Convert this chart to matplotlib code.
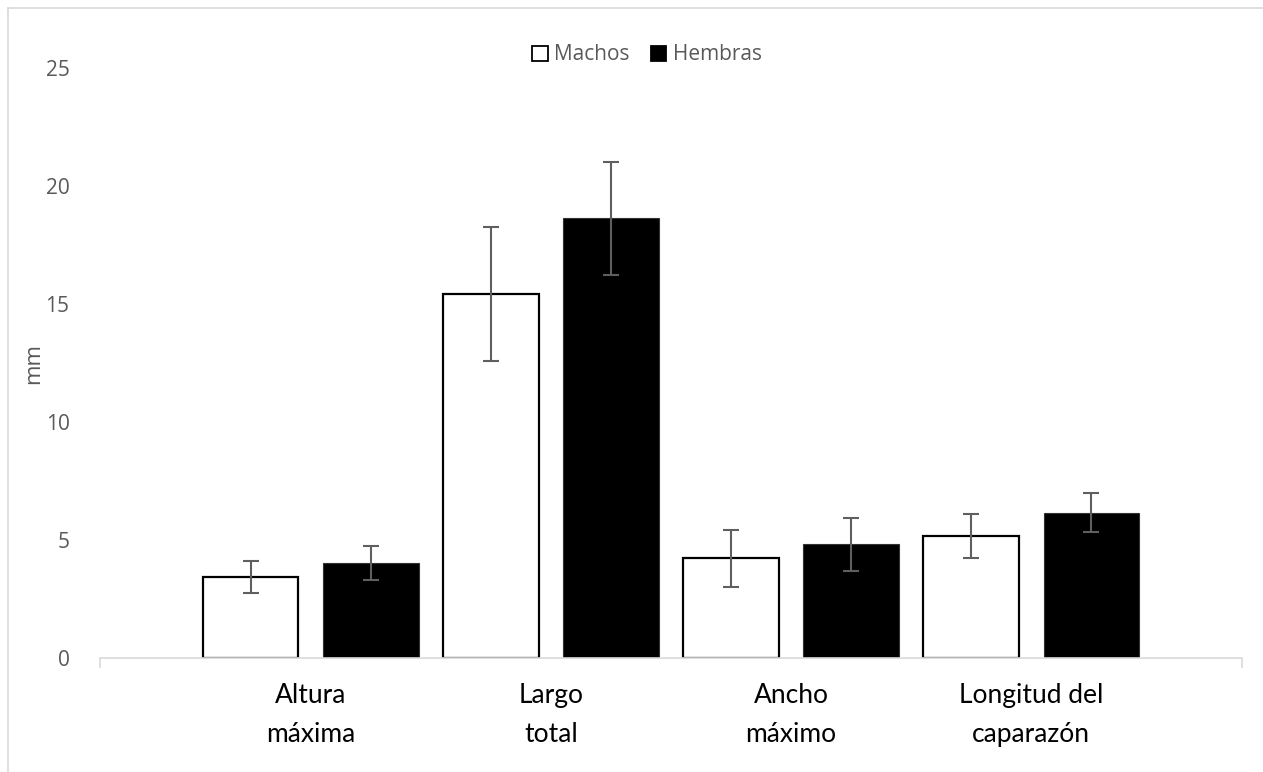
import matplotlib
matplotlib.use("Agg")
import matplotlib.pyplot as plt
from matplotlib.patches import Patch
from matplotlib.lines import Line2D
import numpy as np

categories = ["Altura\nmáxima", "Largo\ntotal", "Ancho\nmáximo", "Longitud del\ncaparazón"]
series_names = ["Machos", "Hembras"]
machos = [3.42, 15.44, 4.22, 5.17]
machos_err = [0.67, 2.84, 1.22, 0.93]
hembras = [4.04, 18.63, 4.82, 6.16]
hembras_err = [0.72, 2.40, 1.13, 0.82]
yticks = [0, 5, 10, 15, 20, 25]
ylabel = "mm"

W, H = 1263, 772
fig = plt.figure(figsize=(W / 100, H / 100), dpi=100)
ax = fig.add_axes([100 / W, 1 - 658 / H, (1242 - 100) / W, (658 - 68) / H])

x = np.arange(len(categories))
bw = 0.396
off = 0.25
grey = "#595959"
err_kw = dict(ecolor="#5f5f5f", elinewidth=1.5, capsize=6, capthick=1.5)

ax.bar(x - off, machos, bw, color="white", edgecolor="black", linewidth=1.6,
       yerr=machos_err, error_kw=err_kw, zorder=2)
ax.bar(x + off, hembras, bw, color="black", edgecolor="#333333", linewidth=0.8,
       yerr=hembras_err, error_kw=err_kw, zorder=2)

ax.set_xlim(-0.879, len(categories) - 1 + 0.879)
ax.set_ylim(0, 25)
ax.set_yticks(yticks)
ax.set_yticklabels([str(t) for t in yticks], fontfamily="Open Sans", fontsize=15, color=grey)
ax.tick_params(axis="y", length=0, pad=22)

for s in ["top", "right", "left"]:
    ax.spines[s].set_visible(False)
ax.spines["bottom"].set_color("#d9d9d9")
ax.spines["bottom"].set_linewidth(1.2)
ax.set_xticks(list(ax.get_xlim()))
ax.set_xticklabels([])
ax.tick_params(axis="x", length=7, width=1.2, color="#d9d9d9", direction="out")

for i, lab in enumerate(categories):
    for j, line in enumerate(lab.split("\n")):
        ax.annotate(line, xy=(i, 0), xycoords=("data", "axes fraction"),
                    xytext=(0, -45 - 39 * j), textcoords="offset pixels",
                    ha="center", va="baseline", fontfamily="Lato", fontsize=19,
                    color="black")

ax.set_ylabel(ylabel, fontfamily="Open Sans", fontsize=16, color=grey)
ax.yaxis.set_label_coords(-(100 - 44) / (1242 - 100), 0.5)

handles = [Patch(facecolor="white", edgecolor="black", linewidth=1.3),
           Patch(facecolor="black", edgecolor="black", linewidth=1.3)]
leg = fig.legend(handles, series_names, loc="center", bbox_to_anchor=(647 / W, 1 - 55 / H),
                 ncol=2, frameon=False, handlelength=0.75, handleheight=0.75,
                 handletextpad=0.3, columnspacing=1.0,
                 prop={"family": "Open Sans", "size": 15})
for t in leg.get_texts():
    t.set_color(grey)

# outer chart border
fig.add_artist(Line2D([8 / W, 8 / W], [0, 1 - 8 / H], transform=fig.transFigure,
                      color="#d9d9d9", linewidth=1.2))
fig.add_artist(Line2D([8 / W, 1], [1 - 8 / H, 1 - 8 / H], transform=fig.transFigure,
                      color="#d9d9d9", linewidth=1.2))

fig.savefig("out.png", dpi=100)
